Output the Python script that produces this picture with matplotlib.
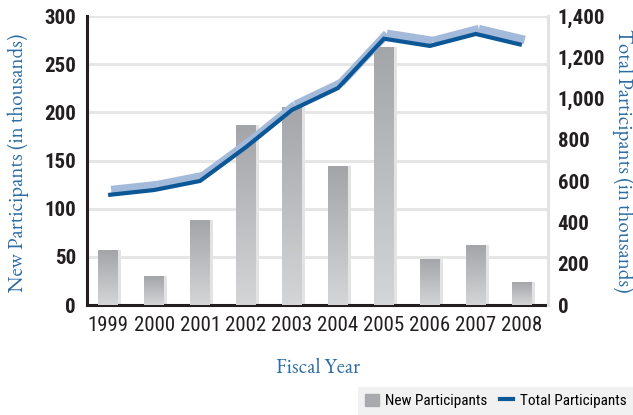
import numpy as np
import matplotlib
matplotlib.use("Agg")
import matplotlib.pyplot as plt
from matplotlib.colors import LinearSegmentedColormap
from matplotlib.patches import Patch
from matplotlib.lines import Line2D
from matplotlib.transforms import offset_copy

years = ["1999", "2000", "2001", "2002", "2003", "2004", "2005", "2006", "2007", "2008"]
new_participants = [57, 30, 88, 187, 206, 144, 268, 48, 62, 24]          # thousands
total_participants = [533, 557, 601, 765, 945, 1051, 1290, 1255, 1313, 1260]  # thousands

narrow = ["Roboto Condensed", "DejaVu Sans"]
serif = ["EB Garamond", "Liberation Serif", "DejaVu Serif"]
blue_txt = "#2c6ca4"
line_blue = "#0c5796"
ribbon_blue = "#a4badb"
ink = "#231f20"

fig = plt.figure(figsize=(6.33, 4.15), dpi=100)
ax = fig.add_axes([87/633, 1 - 305/415, (548 - 87)/633, (305 - 16)/415])
ax2 = ax.twinx()

x = np.arange(len(years))

# gradient bars with a light shadow strip on the right
shadow = ax.bar(x + 0.07, new_participants, width=0.43, color="#e3e3e4", zorder=2)
bars = ax.bar(x, new_participants, width=0.43, color="#bcbdc0", zorder=3)
grad = LinearSegmentedColormap.from_list("g", ["#a4a5a9", "#d4d5d7"])
for b in bars:
    im = ax.imshow(np.linspace(0, 1, 64).reshape(-1, 1), cmap=grad, aspect="auto",
                   extent=[b.get_x(), b.get_x() + b.get_width(), 0, b.get_height()],
                   zorder=3.5)
    im.set_clip_path(b)

ax.set_xlim(-0.46, 9.57)
ax.set_ylim(0, 300)
ax.set_yticks(range(0, 301, 50))
ax.yaxis.grid(True, color="#e6e6e6", lw=2.2, zorder=0)
ax.set_axisbelow(True)
ax.set_xticks(x)
ax.set_xticklabels(years, family=narrow, fontsize=15, color=ink)
for lab in ax.get_yticklabels():
    lab.set_family(narrow)
    lab.set_fontweight("bold")
    lab.set_fontsize(15)
    lab.set_color(ink)
ax.tick_params(axis="y", length=0, pad=8)
ax.tick_params(axis="x", length=0, pad=8)

for side in ["top", "right"]:
    ax.spines[side].set_visible(False)
for side in ["left", "bottom"]:
    ax.spines[side].set_color(ink)
    ax.spines[side].set_linewidth(2.2)
ax2.spines["right"].set_color("#e3e3e3")
ax2.spines["right"].set_linewidth(2.2)
ax2.spines["top"].set_visible(False)
ax2.spines["left"].set_visible(False)
ax2.spines["bottom"].set_visible(False)

# line with raised ribbon, drawn segment by segment
ax2.set_ylim(0, 1400)
ax2.set_yticks(range(0, 1401, 200))
ax2.set_yticklabels([f"{v:,}" for v in range(0, 1401, 200)])
for lab in ax2.get_yticklabels():
    lab.set_family(narrow)
    lab.set_fontweight("bold")
    lab.set_fontsize(15)
    lab.set_color(ink)
ax2.tick_params(axis="y", length=0, pad=7)

rib_tr = offset_copy(ax2.transData, fig=fig, x=3, y=5, units="dots")
for i in range(len(x) - 1):
    ax2.plot(x[i:i + 2], total_participants[i:i + 2], color=ribbon_blue, lw=6,
             solid_capstyle="butt", transform=rib_tr, zorder=4)
ax2.plot(x, total_participants, color=line_blue, lw=3, solid_capstyle="butt",
         solid_joinstyle="miter", zorder=5)

fig.text(18/633, 1 - 163/415, "New Participants (in thousands)", rotation=90,
         ha="center", va="center", family=serif, fontsize=15, color=blue_txt)
fig.text(623/633, 1 - 161/415, "Total Participants (in thousands)", rotation=-90,
         ha="center", va="center", family=serif, fontsize=15, color=blue_txt)
fig.text(318/633, 1 - 368/415, "Fiscal Year", ha="center", va="center",
         family=serif, fontsize=15, color=blue_txt)

handles = [Patch(color="#a9aaad"), Line2D([0], [0], color=line_blue, lw=3)]
leg = fig.legend(handles, ["New Participants", "Total Participants"], loc="lower right",
                 bbox_to_anchor=(1.0, 0.0), ncol=2, frameon=True, fancybox=False,
                 handlelength=0.9, handleheight=0.9, handletextpad=0.4, columnspacing=0.8,
                 borderaxespad=0, borderpad=0.45, prop={"family": narrow, "size": 11})
leg.get_frame().set_facecolor("#eeeeee")
leg.get_frame().set_edgecolor("none")

fig.savefig("out.png", dpi=100)
